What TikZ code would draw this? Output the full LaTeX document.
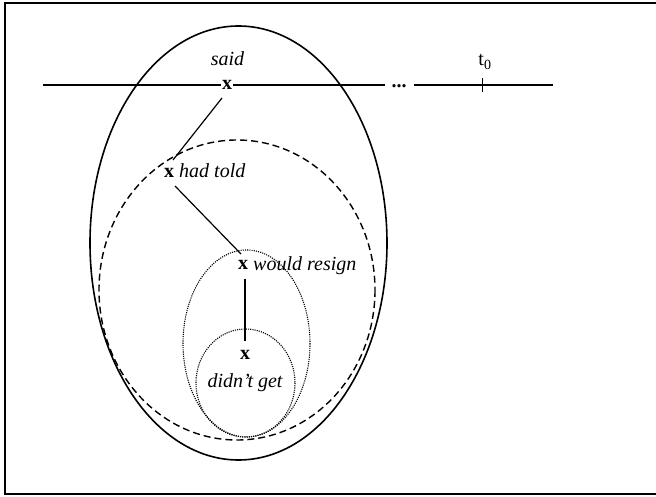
\documentclass[tikz,border=0pt]{standalone}
\usepackage{fontspec}
\setmainfont{Liberation Serif}
\begin{document}
\begin{tikzpicture}[x=1pt,y=-1pt,
  xmark/.style={inner sep=1pt,font=\fontsize{20}{24}\selectfont\bfseries},
  lbl/.style={inner sep=0pt,font=\fontsize{20}{24}\selectfont\itshape},
  tline/.style={line width=1.2pt},
  conn/.style={line width=1.2pt},
  dotline/.style={line width=1.1pt, dash pattern=on 1.1pt off 1.1pt},
  frame/.style={line width=1.5pt}]
\useasboundingbox (0,0) rectangle (656,497);
\draw[frame] (656,3) -- (5,3) -- (5,494) -- (656,494);
% enclosures
\draw[line width=1.6pt] (238.5,243) ellipse [x radius=148.5, y radius=217];
\draw[line width=1.4pt, dash pattern=on 7pt off 4pt] (237,290) ellipse [x radius=138, y radius=150];
\draw[dotline] (246.5,343.5) ellipse [x radius=63.5, y radius=93.5];
\draw[dotline] (245.5,383) ellipse [x radius=49.5, y radius=54];
% nodes
\node[xmark] (x1) at (227,85) {x};
\node[xmark] (x2) at (169,173) {x};
\node[xmark] (x3) at (243,265) {x};
\node[xmark] (x4) at (245,355) {x};
\node[lbl, anchor=base] (said) at (227.5,66) {said};
\node[lbl, anchor=base west] (told) at (179,178) {had told};
\node[lbl, anchor=base west] (resign) at (253,270) {would resign};
\node[lbl, anchor=base] (get) at (245,387) {didn’t get};
\node[inner sep=0pt, font=\fontsize{20}{24}\selectfont, anchor=base] (t0) at (485,66) {t\textsubscript{0}};
\node[inner sep=0pt, font=\fontsize{20}{24}\selectfont\bfseries, anchor=base] (dots) at (399,88) {...};
% time line
\coordinate (L0) at (43,85);
\coordinate (L1) at (385,85);
\coordinate (R0) at (414,85);
\coordinate (R1) at (553,85);
\coordinate (T) at (482.5,85);
\draw[tline] (L0) -- (x1.west);
\draw[tline] (x1.east) -- (L1);
\draw[tline] (R0) -- (R1);
\draw[line width=1.5pt] ([yshift=-7pt]T) -- ([yshift=7pt]T);
% connectors
\draw[conn] ([xshift=-5pt,yshift=-13pt]x1.center) -- ([xshift=4pt,yshift=13pt]x2.center);
\draw[conn] ([xshift=6pt,yshift=-13pt]x2.center) -- ([xshift=-2pt,yshift=11pt]x3.center);
\draw[conn] ([xshift=2pt,yshift=-14pt]x3.center) -- ([yshift=14pt]x4.center);
\end{tikzpicture}
\end{document}
